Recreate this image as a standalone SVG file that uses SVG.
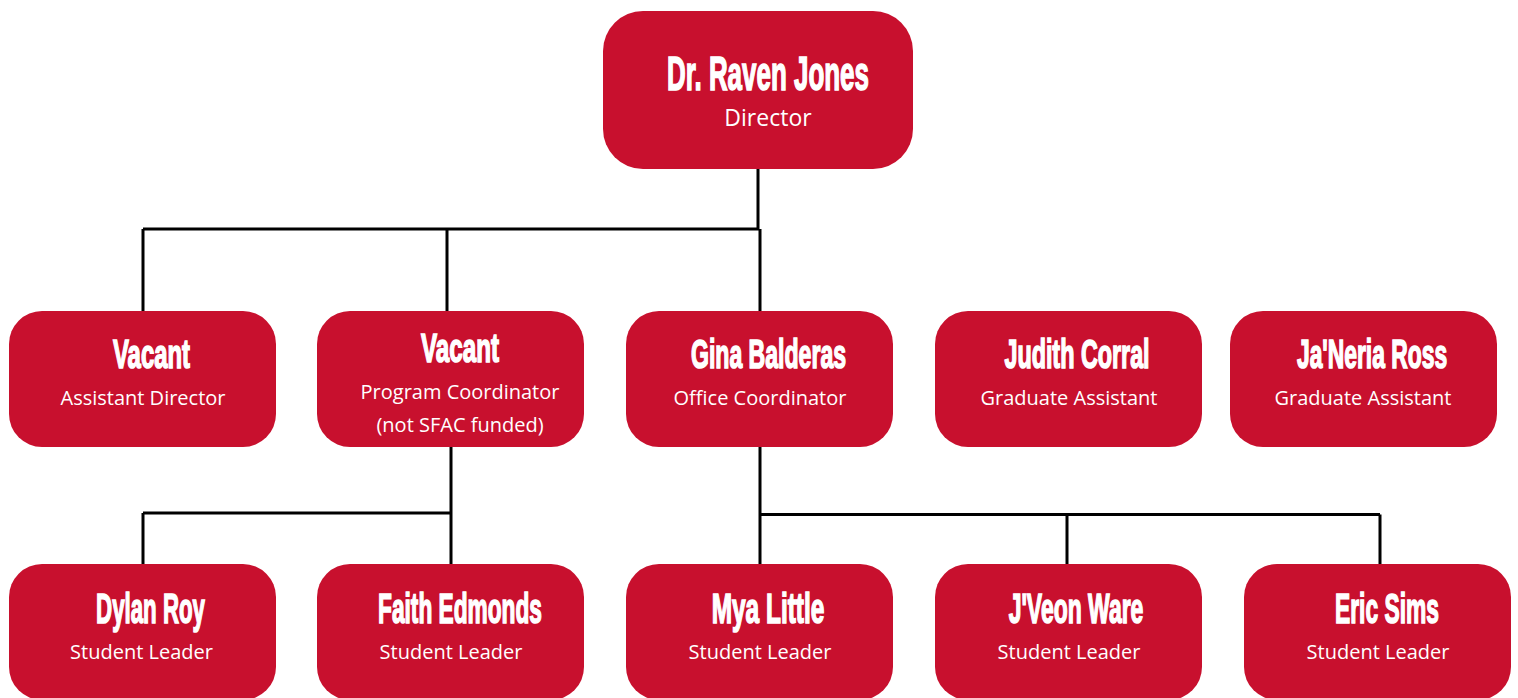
<svg xmlns="http://www.w3.org/2000/svg" width="1518" height="698" viewBox="0 0 1518 698">
<style>
.box{fill:#C8102E;}
.name{font-family:"Liberation Sans",Arial,sans-serif;font-weight:bold;fill:#fff;stroke:#fff;stroke-width:1.3;text-anchor:middle;vector-effect:non-scaling-stroke;}
.sub{font-family:"Open Sans","Noto Sans",sans-serif;font-size:20px;fill:#fff;text-anchor:middle;}
.conn{fill:none;stroke:#000;stroke-width:3;}
</style>
<rect width="1518" height="698" fill="#fff"/>
<g id="connectors" class="conn">
<path d="M758 168 V229 M760 229 L760 311 M143 229 H759 M143 229 V311 M447 229 V311"/>
<path d="M451 446 V564 M143 513 H451 M143 513 V564"/>
<path d="M760 446 V564 M760 514.5 H1380 M1067 514.5 V564 M1380 514.5 V564"/>
</g>
<g id="director">
<rect class="box" x="603" y="11" width="310" height="158" rx="40"/>
<text class="name" transform="translate(768 90) scale(0.55 1)" font-size="48" textLength="367" lengthAdjust="spacingAndGlyphs">Dr. Raven Jones</text>
<text class="sub" x="768" y="126" style="font-size:23px">Director</text>
</g>
<g id="assistant-director">
<rect class="box" x="9" y="311" width="267" height="136" rx="33"/>
<text class="name" transform="translate(151.5 368) scale(0.55 1)" font-size="40" textLength="140" lengthAdjust="spacingAndGlyphs">Vacant</text>
<text class="sub" x="143" y="405">Assistant Director</text>
</g>
<g id="program-coordinator">
<rect class="box" x="317" y="311" width="267" height="136" rx="33"/>
<text class="name" transform="translate(460 362) scale(0.55 1)" font-size="40" textLength="142" lengthAdjust="spacingAndGlyphs">Vacant</text>
<text class="sub" x="460" y="399">Program Coordinator</text>
<text class="sub" x="460" y="432">(not SFAC funded)</text>
</g>
<g id="office-coordinator">
<rect class="box" x="626" y="311" width="267" height="136" rx="33"/>
<text class="name" transform="translate(768.5 368) scale(0.55 1)" font-size="40" textLength="282" lengthAdjust="spacingAndGlyphs">Gina Balderas</text>
<text class="sub" x="760" y="405">Office Coordinator</text>
</g>
<g id="judith-corral">
<rect class="box" x="935" y="311" width="267" height="136" rx="33"/>
<text class="name" transform="translate(1077 368) scale(0.55 1)" font-size="40" textLength="264" lengthAdjust="spacingAndGlyphs">Judith Corral</text>
<text class="sub" x="1069" y="405">Graduate Assistant</text>
</g>
<g id="janeria-ross">
<rect class="box" x="1230" y="311" width="267" height="136" rx="33"/>
<text class="name" transform="translate(1372 368) scale(0.55 1)" font-size="40" textLength="273" lengthAdjust="spacingAndGlyphs">Ja'Neria Ross</text>
<text class="sub" x="1363" y="405">Graduate Assistant</text>
</g>
<g id="dylan-roy">
<rect class="box" x="9" y="564" width="267" height="136" rx="33"/>
<text class="name" transform="translate(150.5 623) scale(0.55 1)" font-size="42" textLength="198" lengthAdjust="spacingAndGlyphs">Dylan Roy</text>
<text class="sub" x="141.5" y="659">Student Leader</text>
</g>
<g id="faith-edmonds">
<rect class="box" x="317" y="564" width="267" height="136" rx="33"/>
<text class="name" transform="translate(460 623) scale(0.55 1)" font-size="42" textLength="298" lengthAdjust="spacingAndGlyphs">Faith Edmonds</text>
<text class="sub" x="451" y="659">Student Leader</text>
</g>
<g id="mya-little">
<rect class="box" x="626" y="564" width="267" height="136" rx="33"/>
<text class="name" transform="translate(768 623) scale(0.55 1)" font-size="42" textLength="205" lengthAdjust="spacingAndGlyphs">Mya Little</text>
<text class="sub" x="760" y="659">Student Leader</text>
</g>
<g id="jveon-ware">
<rect class="box" x="935" y="564" width="267" height="136" rx="33"/>
<text class="name" transform="translate(1076 623) scale(0.55 1)" font-size="42" textLength="245" lengthAdjust="spacingAndGlyphs">J'Veon Ware</text>
<text class="sub" x="1069" y="659">Student Leader</text>
</g>
<g id="eric-sims">
<rect class="box" x="1244" y="564" width="267" height="136" rx="33"/>
<text class="name" transform="translate(1387 623) scale(0.55 1)" font-size="42" textLength="189" lengthAdjust="spacingAndGlyphs">Eric Sims</text>
<text class="sub" x="1378" y="659">Student Leader</text>
</g>
</svg>
